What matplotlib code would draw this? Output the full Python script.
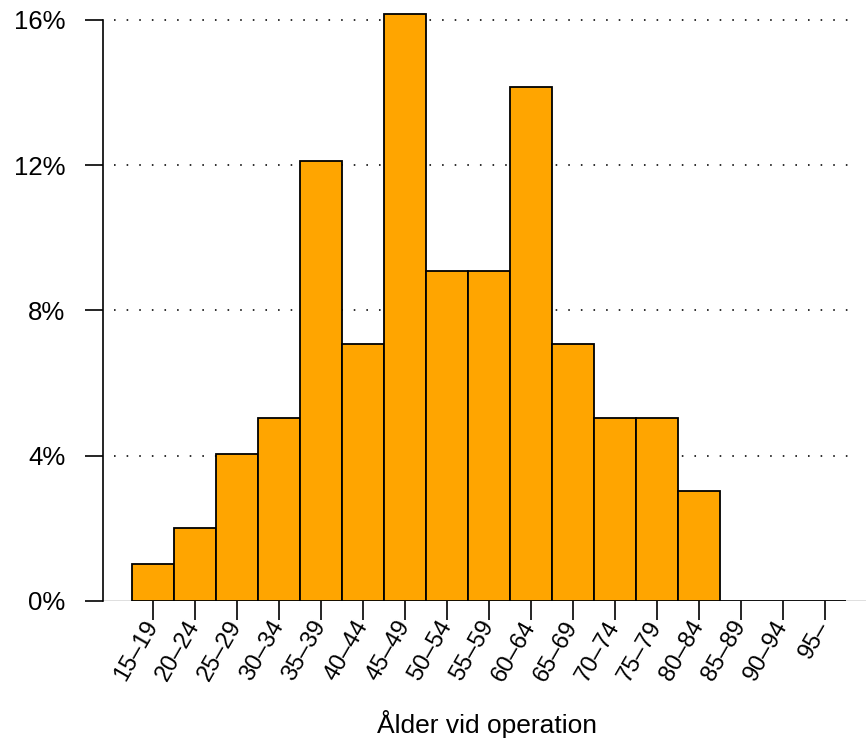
import matplotlib.pyplot as plt
import numpy as np

plt.rcParams['font.family'] = ['Liberation Sans', 'DejaVu Sans']

# age groups and counts (n = 99)
age_groups = ["15–19", "20–24", "25–29", "30–34", "35–39", "40–44", "45–49",
              "50–54", "55–59", "60–64", "65–69", "70–74", "75–79", "80–84",
              "85–89", "90–94", "95–"]
counts = [1, 2, 4, 5, 12, 7, 16, 9, 9, 14, 7, 5, 5, 3, 0, 0, 0]
y_ticks = [0, 4, 8, 12, 16]

pct = np.array(counts) / sum(counts) * 100
x = np.arange(len(age_groups))

fig = plt.figure(figsize=(8.66, 7.4), dpi=100)
ax = fig.add_axes([103 / 866, 139 / 740, 763 / 866, 601 / 740])

# dotted grid + solid baseline
for t in y_ticks[1:]:
    ax.plot([-0.93, 16.8], [t, t], color="black", linestyle=(0, (1, 6.9)),
            linewidth=1.15, zorder=1)
ax.plot([-1.19, 17.0], [0, 0], color="black", linewidth=0.9, zorder=1)

ax.bar(x, pct, width=1.0, color="#FFA500", edgecolor="black",
       linewidth=1.3, zorder=2)

ax.set_xlim(-1.19, 16.98)
ax.set_ylim(0, 16.55)

for s in ["top", "right", "bottom"]:
    ax.spines[s].set_visible(False)
ax.spines["left"].set_bounds(0, 16)
ax.spines["left"].set_linewidth(1.2)

ax.set_yticks(y_ticks)
ax.set_yticklabels([f"{t}%" for t in y_ticks], fontsize=18.5)
ax.tick_params(axis="y", length=13, width=1.2, pad=14)

ax.set_xticks(x)
ax.set_xticklabels(age_groups, fontsize=17, rotation=60, ha="right",
                   va="center", rotation_mode="anchor")
ax.tick_params(axis="x", length=14, width=1.2, pad=1.5)

fig.text(487 / 866, 7 / 740, "Ålder vid operation", fontsize=19,
         ha="center", va="baseline")

fig.savefig("out.png", dpi=100)
